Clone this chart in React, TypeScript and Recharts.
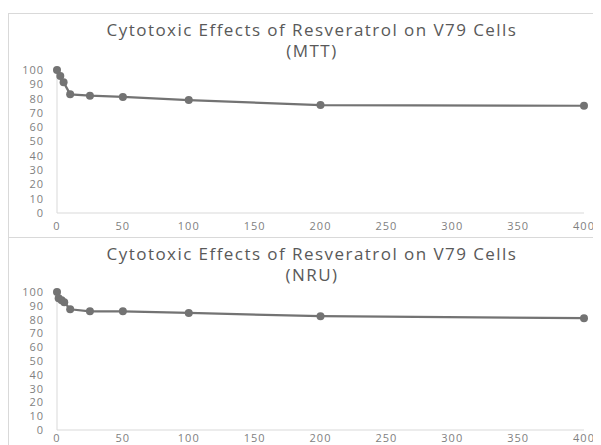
import React from "react";
import { LineChart, Line, XAxis, YAxis } from "recharts";

const titleMain = "Cytotoxic Effects of Resveratrol on V79 Cells";
const mttLabel = "(MTT)";
const nruLabel = "(NRU)";

const mttDoses = [0, 2.5, 5, 10, 25, 50, 100, 200, 400];
const mttValues = [100, 95.8, 91.5, 83, 82, 81.2, 79, 75.5, 75];

const nruDoses = [0, 1.25, 3.5, 5.5, 10, 25, 50, 100, 200, 400];
const nruValues = [100, 95.5, 94, 92.5, 87.5, 86, 86, 84.8, 82.5, 81];

const xTicks = [0, 50, 100, 150, 200, 250, 300, 350, 400];
const yTicks = [0, 10, 20, 30, 40, 50, 60, 70, 80, 90, 100];

const FONT = "'Open Sans', sans-serif";
const LINE = "#737373";
const AXIS = "#d9d9d9";
const TICK = "#7f7f7f";

const titleStyle: React.CSSProperties = {
  position: "absolute",
  left: 0,
  width: 606,
  textAlign: "center",
  fontFamily: FONT,
  fontSize: 17,
  letterSpacing: 1.45,
  lineHeight: "20px",
  color: "#595959",
};

function Panel({ doses, values, sub, top, height, topMargin, plotHeight, xTickMargin }: any) {
  const data = doses.map((d: number, i: number) => ({ x: d, y: values[i] }));
  return (
    <div
      style={{
        position: "absolute",
        left: 0,
        top,
        width: 600,
        height,
        border: "1px solid #d9d9d9",
        boxSizing: "border-box",
        background: "#fff",
      }}
    >
      <div style={{ ...titleStyle, top: 6 }}>{titleMain}</div>
      <div style={{ ...titleStyle, top: 27 }}>{sub}</div>
      <LineChart
        width={593}
        height={topMargin + plotHeight + 25}
        data={data}
        margin={{ top: topMargin, right: 18, left: 18, bottom: 0 }}
      >
        <XAxis
          dataKey="x"
          type="number"
          domain={[0, 400]}
          ticks={xTicks}
          tickLine={false}
          axisLine={{ stroke: AXIS }}
          tick={{ fill: TICK, fontSize: 11, fontFamily: FONT, letterSpacing: 1 }}
          height={25}
          tickMargin={xTickMargin}
        />
        <YAxis
          type="number"
          domain={[0, 100]}
          ticks={yTicks}
          tickLine={false}
          axisLine={{ stroke: AXIS }}
          tick={{ fill: TICK, fontSize: 11, fontFamily: FONT, letterSpacing: 1 }}
          width={30}
          tickMargin={7}
          interval={0}
        />
        <Line
          dataKey="y"
          stroke={LINE}
          strokeWidth={2.25}
          dot={{ r: 4, fill: LINE, stroke: LINE, strokeWidth: 0 }}
          isAnimationActive={false}
          type="linear"
        />
      </LineChart>
    </div>
  );
}

export default function App() {
  return (
    <div style={{ position: "relative", width: 593, height: 437, overflow: "hidden" }}>
      <Panel doses={mttDoses} values={mttValues} sub={mttLabel} top={5} height={225} topMargin={56} plotHeight={143} xTickMargin={3} />
      <Panel doses={nruDoses} values={nruValues} sub={nruLabel} top={229} height={230} topMargin={54} plotHeight={138} xTickMargin={-2} />
    </div>
  );
}
